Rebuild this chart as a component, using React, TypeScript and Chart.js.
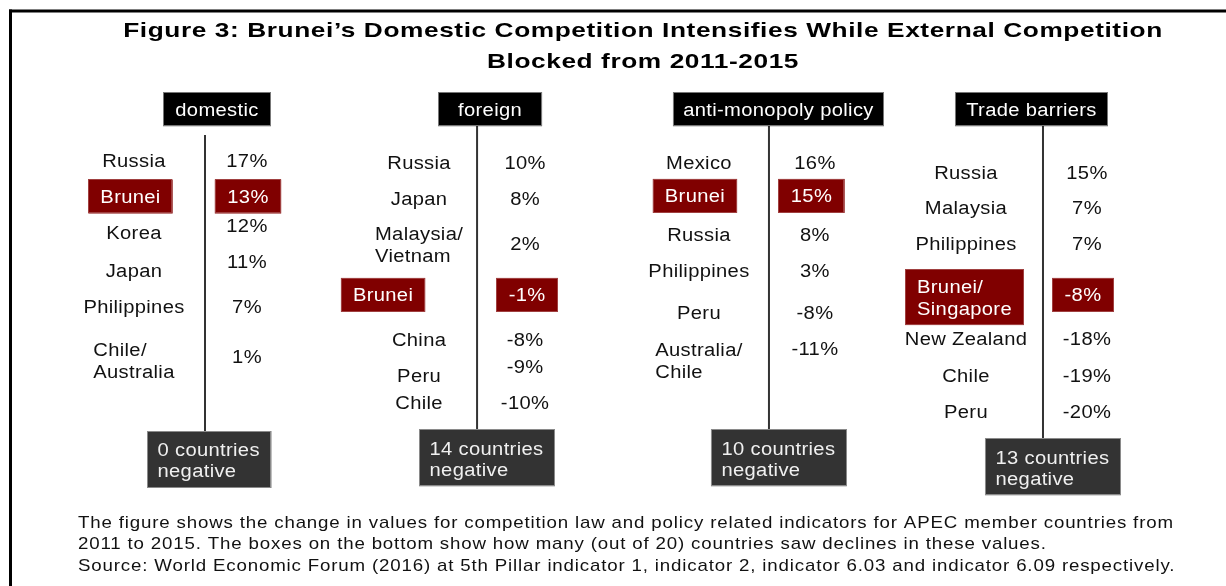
import React, { useEffect, useRef } from 'react';
import { Chart, registerables } from 'chart.js';

Chart.register(...registerables);

const W = 1226;
const H = 586;

// ---------------- data ----------------
const panelTitles = ['domestic', 'foreign', 'anti-monopoly policy', 'Trade barriers'];

const domesticCountries = ['Russia', 'Brunei', 'Korea', 'Japan', 'Philippines', 'Chile/\nAustralia'];
const domesticValues = [17, 13, 12, 11, 7, 1];

const foreignCountries = ['Russia', 'Japan', 'Malaysia/\nVietnam', 'Brunei', 'China', 'Peru', 'Chile'];
const foreignValues = [10, 8, 2, -1, -8, -9, -10];

const antiMonopolyCountries = ['Mexico', 'Brunei', 'Russia', 'Philippines', 'Peru', 'Australia/\nChile'];
const antiMonopolyValues = [16, 15, 8, 3, -8, -11];

const tradeCountries = ['Russia', 'Malaysia', 'Philippines', 'Brunei/\nSingapore', 'New Zealand', 'Chile', 'Peru'];
const tradeValues = [15, 7, 7, -8, -18, -19, -20];

const negativeCounts = [0, 14, 10, 13];
const highlightCountry = 'Brunei';

const titleLines = [
  'Figure 3: Brunei\u2019s Domestic Competition Intensifies While External Competition',
  'Blocked from 2011-2015',
];
const noteLines = [
  'The figure shows the change in values for competition law and policy related indicators for APEC member countries from',
  '2011 to 2015. The boxes on the bottom show how many (out of 20) countries saw declines in these values.',
  'Source: World Economic Forum (2016) at 5th Pillar indicator 1, indicator 2, indicator 6.03 and indicator 6.09 respectively.',
];

// ---------------- layout (positions / sizes, kept apart from the data) ----------------
const ROW0_PX = 161;
const ROW_PITCH = 36;
const PANEL0_PX = 205;
const PANEL_PITCH = 279.33;
const PANEL_X = [0, 0.974, 2.019, 3];
const LABEL_ROWS = [
  [0, 0.986, 2, 3.03, 4.03, 5.54],
  [0.03, 1.03, 2.31, 3.72, 4.97, 5.97, 6.72],
  [0.03, 0.97, 2.03, 3.03, 4.22, 5.54],
  [0.31, 1.28, 2.28, 3.78, 4.94, 5.97, 6.97],
];
const VALUE_ROWS = [
  [0, 0.986, 1.78, 2.8, 4.03, 5.44],
  [0.03, 1.03, 2.28, 3.72, 4.97, 5.72, 6.72],
  [0.03, 0.97, 2.03, 3.03, 4.22, 5.22],
  [0.31, 1.28, 2.28, 3.72, 4.94, 5.97, 6.97],
];
const LABEL_DX = [-71, -58, -70, -77];
const HL_LABEL_DX = [-74.5, -94, -74, -78.5];
const VALUE_DX = [42, 48, 46, 44];
const HL_VALUE_DX = [43, 50, 42.5, 40];
const HEADER_DX = [12, 13, 9.5, -11.5];
const HEADER_W = [108, 104, 211, 153];
const HEADER_ROW = -1.44;
const STEM_TOP = [-0.72, -1, -1, -1];
const STEM_BOTTOM = [7.5, 7.45, 7.45, 7.7];
const BOX_DX = -58;

const FONT = '"Liberation Sans", Arial, sans-serif';
const BODY_SIZE = 18;
const BODY_LS = 0.3;
const BODY_SX = 1.12;
const TITLE_SX = 1.25;
const NOTE_SX = 1.1;

const panels = [
  { countries: domesticCountries, values: domesticValues },
  { countries: foreignCountries, values: foreignValues },
  { countries: antiMonopolyCountries, values: antiMonopolyValues },
  { countries: tradeCountries, values: tradeValues },
];

let curSX = 1;

function setFont(ctx: CanvasRenderingContext2D, size: number, bold: boolean, ls: number, sx: number) {
  ctx.font = `${bold ? 'bold ' : ''}${size}px ${FONT}`;
  (ctx as any).letterSpacing = `${ls}px`;
  curSX = sx;
}

function measure(ctx: CanvasRenderingContext2D, s: string) {
  return ctx.measureText(s).width * curSX;
}

// y is the visual centre of the capitals
function drawText(
  ctx: CanvasRenderingContext2D,
  s: string,
  x: number,
  y: number,
  align: 'left' | 'center',
  size: number,
  color: string,
) {
  const w = measure(ctx, s);
  const left = align === 'center' ? x - w / 2 : x;
  ctx.save();
  ctx.textAlign = 'left';
  ctx.textBaseline = 'alphabetic';
  ctx.fillStyle = color;
  ctx.translate(left, y + size * 0.358);
  ctx.scale(curSX, 1);
  ctx.fillText(s, 0, 0);
  ctx.restore();
}

function rect(ctx: CanvasRenderingContext2D, x: number, y: number, w: number, h: number, fill: string, stroke: string) {
  ctx.fillStyle = fill;
  ctx.fillRect(x, y, w, h);
  ctx.strokeStyle = stroke;
  ctx.lineWidth = 1;
  ctx.strokeRect(Math.round(x) + 0.5, Math.round(y) + 0.5, Math.round(w) - 1, Math.round(h) - 1);
}

const infographic = {
  id: 'infographic',
  beforeDraw(chart: any) {
    const ctx = chart.ctx as CanvasRenderingContext2D;
    ctx.save();
    ctx.fillStyle = '#ffffff';
    ctx.fillRect(0, 0, chart.width, chart.height);
    ctx.restore();
  },
  afterDatasetsDraw(chart: any) {
    const ctx = chart.ctx as CanvasRenderingContext2D;
    const xs = chart.scales.x;
    const ys = chart.scales.y;
    ctx.save();

    // frame
    ctx.fillStyle = '#000';
    ctx.fillRect(9, 9.5, W - 9, 3);
    ctx.fillRect(9, 9.5, 3, H - 9.5);

    // title
    setFont(ctx, 21, true, 0, TITLE_SX);
    const tw0 = measure(ctx, titleLines[0]);
    const tls = (1039 - tw0) / (titleLines[0].length - 1) / TITLE_SX;
    setFont(ctx, 21, true, tls, TITLE_SX);
    drawText(ctx, titleLines[0], 643, 29.5, 'center', 21, '#000');
    drawText(ctx, titleLines[1], 643, 60, 'center', 21, '#000');

    // note
    setFont(ctx, 17, false, 0, NOTE_SX);
    const nw0 = measure(ctx, noteLines[0]);
    const nls = (1095 - nw0) / (noteLines[0].length - 1) / NOTE_SX;
    setFont(ctx, 17, false, nls, NOTE_SX);
    noteLines.forEach((l, k) => drawText(ctx, l, 78, 522 + k * 21.3, 'left', 17, '#111'));

    setFont(ctx, BODY_SIZE, false, BODY_LS, BODY_SX);
    panels.forEach((p, i) => {
      const S = xs.getPixelForValue(PANEL_X[i]);

      // header box
      const hy = ys.getPixelForValue(HEADER_ROW);
      const hcx = S + HEADER_DX[i];
      rect(ctx, hcx - HEADER_W[i] / 2, hy - 17, HEADER_W[i], 34, '#000', '#777');
      drawText(ctx, panelTitles[i], hcx, hy, 'center', BODY_SIZE, '#fff');

      // country labels
      const lm = chart.getDatasetMeta(i * 3 + 1);
      p.countries.forEach((c, j) => {
        const el = lm.data[j];
        const hl = c.startsWith(highlightCountry);
        const lines = c.split('\n');
        const cx = S + (hl ? HL_LABEL_DX[i] : LABEL_DX[i]);
        const cy = el.y;
        const bw = Math.max(...lines.map((l) => measure(ctx, l)));
        const n = lines.length;
        if (hl) {
          const bh = n === 1 ? 34 : 56;
          rect(ctx, cx - bw / 2 - 12, cy - bh / 2, bw + 24, bh, '#800000', '#a04040');
        }
        lines.forEach((l, k) => {
          const ly = cy + (k - (n - 1) / 2) * 22;
          if (n === 1) drawText(ctx, l, cx, ly, 'center', BODY_SIZE, hl ? '#fff' : '#111');
          else drawText(ctx, l, cx - bw / 2, ly, 'left', BODY_SIZE, hl ? '#fff' : '#111');
        });
      });

      // values
      const vm = chart.getDatasetMeta(i * 3 + 2);
      p.values.forEach((v, j) => {
        const el = vm.data[j];
        const hl = p.countries[j].startsWith(highlightCountry);
        const s = `${v}%`;
        const cx = S + (hl ? HL_VALUE_DX[i] : VALUE_DX[i]);
        const cy = el.y;
        if (hl) {
          const w = measure(ctx, s);
          rect(ctx, cx - w / 2 - 12.5, cy - 17, w + 25, 34, '#800000', '#a04040');
        }
        drawText(ctx, s, cx, cy, 'center', BODY_SIZE, hl ? '#fff' : '#111');
      });

      // bottom count box
      const top = ys.getPixelForValue(STEM_BOTTOM[i]);
      const lines = [`${negativeCounts[i]} countries`, 'negative'];
      const bw = Math.max(...lines.map((l) => measure(ctx, l)));
      const left = S + BOX_DX;
      rect(ctx, left, top, bw + 22, 57, '#333333', '#8a8a8a');
      lines.forEach((l, k) => drawText(ctx, l, left + 10.5, top + 19 + k * 21, 'left', BODY_SIZE, '#f0f0f0'));
    });

    ctx.restore();
  },
};

export default function App() {
  const ref = useRef<HTMLCanvasElement | null>(null);

  useEffect(() => {
    if (!ref.current) return;
    const datasets: any[] = [];
    panels.forEach((p, i) => {
      datasets.push({
        label: `${panelTitles[i]} stem`,
        data: [
          { x: PANEL_X[i], y: STEM_TOP[i] },
          { x: PANEL_X[i], y: STEM_BOTTOM[i] },
        ],
        showLine: true,
        borderColor: '#333333',
        borderWidth: 2,
        pointRadius: 0,
      });
      datasets.push({
        label: `${panelTitles[i]} countries`,
        data: p.countries.map((_, j) => ({ x: PANEL_X[i], y: LABEL_ROWS[i][j] })),
        pointRadius: 0,
        showLine: false,
      });
      datasets.push({
        label: `${panelTitles[i]} values`,
        data: p.values.map((v, j) => ({ x: PANEL_X[i], y: VALUE_ROWS[i][j], v })),
        pointRadius: 0,
        showLine: false,
      });
    });

    const chart = new Chart(ref.current, {
      type: 'scatter',
      data: { datasets },
      options: {
        responsive: false,
        animation: false,
        devicePixelRatio: 1,
        events: [],
        layout: { padding: 0 },
        plugins: {
          legend: { display: false },
          tooltip: { enabled: false },
          title: { display: false },
        },
        scales: {
          x: {
            type: 'linear',
            display: false,
            min: -PANEL0_PX / PANEL_PITCH,
            max: (W - PANEL0_PX) / PANEL_PITCH,
          },
          y: {
            type: 'linear',
            display: false,
            reverse: true,
            min: -ROW0_PX / ROW_PITCH,
            max: (H - ROW0_PX) / ROW_PITCH,
          },
        },
      } as any,
      plugins: [infographic as any],
    });
    return () => chart.destroy();
  }, []);

  return (
    <div style={{ position: 'fixed', left: 0, top: 0, width: W, height: H, background: '#fff' }}>
      <canvas ref={ref} width={W} height={H} style={{ width: W, height: H, display: 'block' }} />
    </div>
  );
}
